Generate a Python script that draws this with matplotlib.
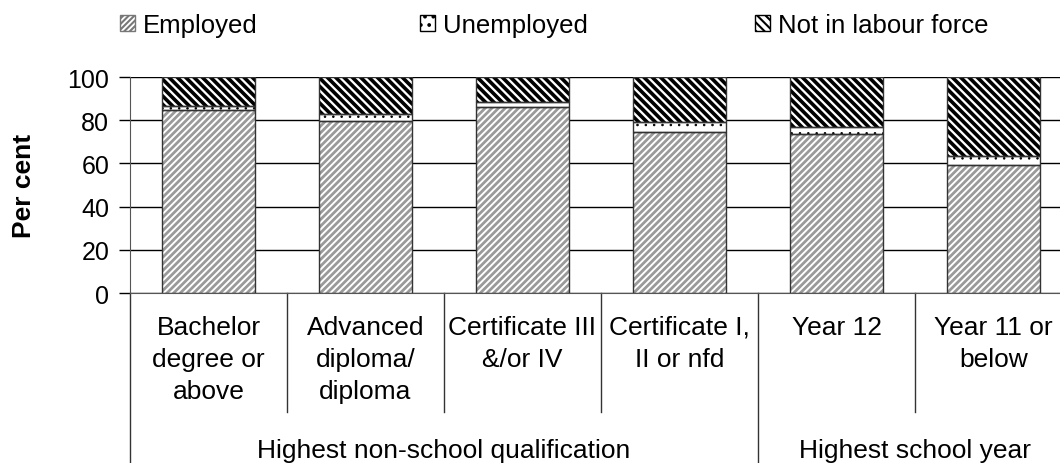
import numpy as np
import matplotlib as mpl
import matplotlib.pyplot as plt
from matplotlib.patches import Patch

plt.rcParams['font.family'] = ['Liberation Sans', 'DejaVu Sans']
plt.rcParams['hatch.linewidth'] = 1.5

# data (per cent)
categories = ['Bachelor\ndegree or\nabove', 'Advanced\ndiploma/\ndiploma',
              'Certificate III\n&/or IV', 'Certificate I,\nII or nfd',
              'Year 12', 'Year 11 or\nbelow']
groups = ['Highest non-school qualification', 'Highest school year']
group_sizes = [4, 2]
employed = [84.9, 79.6, 86.0, 74.4, 73.5, 59.2]
unemployed = [1.5, 3.3, 2.4, 4.7, 3.5, 4.3]
not_in_lf = [13.6, 17.1, 11.6, 20.9, 23.0, 36.5]
yticks = [0, 20, 40, 60, 80, 100]

W, H = 1060, 464
fig = plt.figure(figsize=(W / 100, H / 100), dpi=100)
ax = fig.add_axes([130 / W, 170 / H, 942 / W, 216 / H])

x = np.arange(len(categories))
bw = 0.59
emp = np.array(employed)
une = np.array(unemployed)
nlf = np.array(not_in_lf)

EMP_HATCH = '/' * 5
UNE_HATCH = '..'
NLF_HATCH = '\\' * 4

with mpl.rc_context({'hatch.linewidth': 2.0}):
    ax.bar(x, emp, bw, color='white', edgecolor='#9a9a9a', hatch=EMP_HATCH, lw=0)
with mpl.rc_context({'hatch.linewidth': 0.6}):
    ax.bar(x, une, bw, bottom=emp, color='white', edgecolor='black', hatch=UNE_HATCH, lw=0)
with mpl.rc_context({'hatch.linewidth': 2.6}):
    ax.bar(x, nlf, bw, bottom=emp + une, color='white', edgecolor='black', hatch=NLF_HATCH, lw=0)
# outlines
for vals, bot in [(emp, 0), (une, emp), (nlf, emp + une)]:
    ax.bar(x, vals, bw, bottom=bot, fill=False, edgecolor='#333333', lw=1)

ax.set_xlim(-0.5, len(categories) - 0.5)
ax.set_ylim(0, 100)
ax.set_yticks(yticks)
ax.tick_params(axis='y', labelsize=18, length=8, width=1, direction='out', pad=7)
ax.tick_params(axis='x', bottom=False, labelbottom=False)
ax.yaxis.grid(True, color='black', lw=1)
ax.set_axisbelow(True)
for s in ['top', 'right']:
    ax.spines[s].set_visible(False)
ax.spines['left'].set_color('#555555')
ax.spines['bottom'].set_color('#555555')

trans = ax.get_xaxis_transform()
for i, c in enumerate(categories):
    ax.text(i, -0.1, c, transform=trans, ha='center', va='top',
            fontsize=19, linespacing=1.42)

# category dividers
bounds = [-0.5]
for g in group_sizes:
    bounds.append(bounds[-1] + g)
for b in np.arange(-0.5, len(categories), 1.0):
    low = -0.79 if b in bounds else -0.551
    ax.plot([b, b], [0, low], transform=trans, color='#333333', lw=1, clip_on=False)

for g, lo, hi in zip(groups, bounds[:-1], bounds[1:]):
    ax.text((lo + hi) / 2, -0.725, g, transform=trans, ha='center', va='center', fontsize=19)

fig.text(24 / W, 1 - 186 / H, 'Per cent', rotation=90, fontsize=19, fontweight='bold',
         ha='center', va='center')

with mpl.rc_context({'hatch.linewidth': 0.8}):
    handles = [Patch(facecolor='white', edgecolor='#777777', hatch='/' * 6),
               Patch(facecolor='white', edgecolor='black', hatch='..'),
               Patch(facecolor='white', edgecolor='black', hatch='\\' * 4)]
labels = ['Employed', 'Unemployed', 'Not in labour force']
starts = [120, 420, 755]
for h, l, s in zip(handles, labels, starts):
    fig.legend([h], [l], loc='center left', bbox_to_anchor=(s / W, 1 - 26 / H),
               frameon=False, fontsize=18.5, handlelength=0.6, handleheight=0.6,
               handletextpad=0.28, borderpad=0, borderaxespad=0)

fig.savefig('out.png', dpi=100)
